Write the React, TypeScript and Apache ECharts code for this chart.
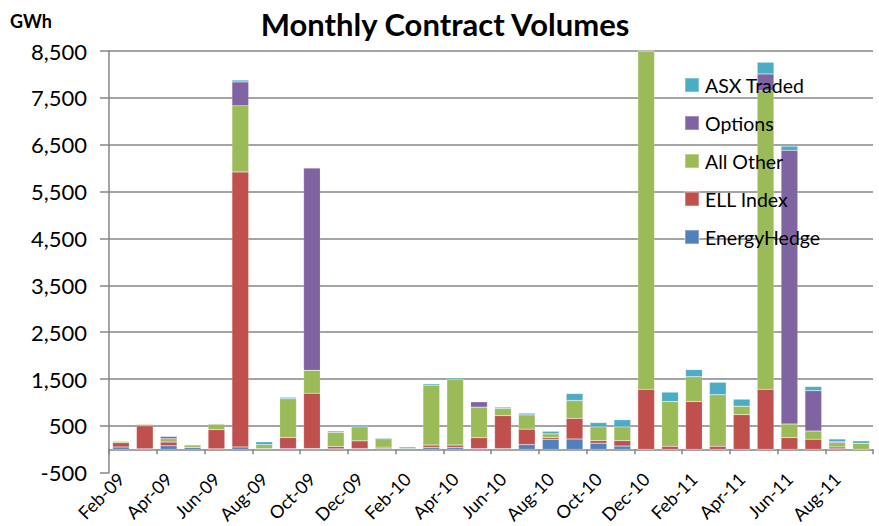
import React, { useEffect, useRef } from "react";
import * as echarts from "echarts";

const months = [
  "Feb-09", "Mar-09", "Apr-09", "May-09", "Jun-09", "Jul-09", "Aug-09", "Sep-09",
  "Oct-09", "Nov-09", "Dec-09", "Jan-10", "Feb-10", "Mar-10", "Apr-10", "May-10",
  "Jun-10", "Jul-10", "Aug-10", "Sep-10", "Oct-10", "Nov-10", "Dec-10", "Jan-11",
  "Feb-11", "Mar-11", "Apr-11", "May-11", "Jun-11", "Jul-11", "Aug-11", "Sep-11",
];

const energyHedge = [50, 10, 75, 40, 10, 50, 15, 15, 15, 10, 15, 20, 20, 40, 40, 15, 15, 100, 215, 220, 130, 70, 0, 0, 0, 0, 0, 0, 0, 0, 10, 0];
const ellIndex = [90, 490, 80, 0, 410, 5870, 0, 235, 1180, 50, 165, 25, 0, 50, 50, 235, 705, 330, 35, 440, 55, 115, 1280, 65, 1020, 65, 740, 1280, 250, 215, 40, 0];
const allOther = [30, 35, 70, 55, 120, 1410, 85, 830, 490, 300, 300, 180, 35, 1280, 1400, 650, 150, 305, 80, 380, 295, 295, 7220, 955, 530, 1100, 180, 6370, 290, 175, 90, 130];
const options = [0, 0, 50, 0, 0, 510, 0, 0, 4320, 0, 0, 0, 0, 0, 0, 115, 0, 0, 0, 0, 0, 0, 0, 0, 0, 0, 0, 360, 5840, 860, 20, 0];
const asxTraded = [10, 0, 0, 0, 0, 40, 60, 30, 0, 30, 25, 20, 5, 30, 30, 0, 30, 35, 55, 150, 90, 150, 0, 200, 150, 265, 150, 250, 90, 90, 60, 50];

const seriesNames = ["EnergyHedge", "ELL Index", "All Other", "Options", "ASX Traded"];
const seriesColors = ["#4F81BD", "#C0504D", "#9BBB59", "#8064A2", "#4BACC6"];
const seriesData = [energyHedge, ellIndex, allOther, options, asxTraded];

const FONT = "Lato, 'Open Sans', sans-serif";

export default function App() {
  const ref = useRef<HTMLDivElement>(null);
  useEffect(() => {
    if (!ref.current) return;
    const chart = echarts.init(ref.current, null, { renderer: "svg" });
    chart.setOption({
      animation: false,
      backgroundColor: "#ffffff",
      textStyle: { fontFamily: FONT },
      title: {
        text: "Monthly Contract Volumes",
        left: 440,
        textAlign: "center",
        top: 3,
        textStyle: { fontSize: 31, fontWeight: "bold", color: "#000", fontFamily: FONT },
      },
      graphic: [
        {
          type: "text",
          left: 10,
          top: 12,
          style: { text: "GWh", fontSize: 18, fontWeight: "bold", fill: "#000", fontFamily: FONT },
        },
      ],
      legend: {
        orient: "vertical",
        left: 684,
        top: 75,
        padding: 0,
        itemGap: 18,
        itemWidth: 14,
        itemHeight: 14,
        icon: "rect",
        data: ["ASX Traded", "Options", "All Other", "ELL Index", "EnergyHedge"],
        textStyle: { fontSize: 19.5, lineHeight: 20, color: "#000", fontFamily: FONT, padding: [0, 0, 0, 1] },
      },
      grid: { left: 109, right: 6, top: 51, bottom: 48, containLabel: false },
      xAxis: [
        {
          type: "category",
          data: months,
          position: "bottom",
          axisLine: { onZero: true, lineStyle: { color: "#868686", width: 1.5 } },
          axisTick: { show: true, interval: 1, length: 5, lineStyle: { color: "#868686", width: 1.5 } },
          axisLabel: { show: false },
          splitLine: { show: false },
        },
        {
          type: "category",
          data: months,
          position: "bottom",
          axisLine: { show: false, onZero: false },
          axisTick: { show: false },
          axisLabel: {
            interval: 1,
            rotate: 45,
            fontSize: 18,
            color: "#000",
            margin: 3,
            fontFamily: FONT,
          },
        },
      ],
      yAxis: {
        type: "value",
        min: -500,
        max: 8500,
        interval: 1000,
        axisLine: { show: true, lineStyle: { color: "#868686", width: 1.5 } },
        axisTick: { show: true, inside: false, length: 9, lineStyle: { color: "#868686", width: 1.5 } },
        axisLabel: {
          fontSize: 22,
          color: "#000",
          margin: 22,
          fontFamily: FONT,
          formatter: (v: number) => v.toLocaleString("en-US"),
        },
        splitLine: { show: true, showMinLine: false, lineStyle: { color: "#868686", width: 1.5 } },
      },
      series: seriesNames.map((name, i) => ({
        name,
        type: "bar",
        stack: "total",
        xAxisIndex: 0,
        barCategoryGap: "30%",
        data: seriesData[i],
        itemStyle: { color: seriesColors[i], borderColor: "rgba(255,255,255,0.3)", borderWidth: 0.5 },
      })),
    });
    return () => chart.dispose();
  }, []);
  return (
    <div
      ref={ref}
      style={{ position: "fixed", left: 0, top: 0, width: 879, height: 526 }}
    />
  );
}
